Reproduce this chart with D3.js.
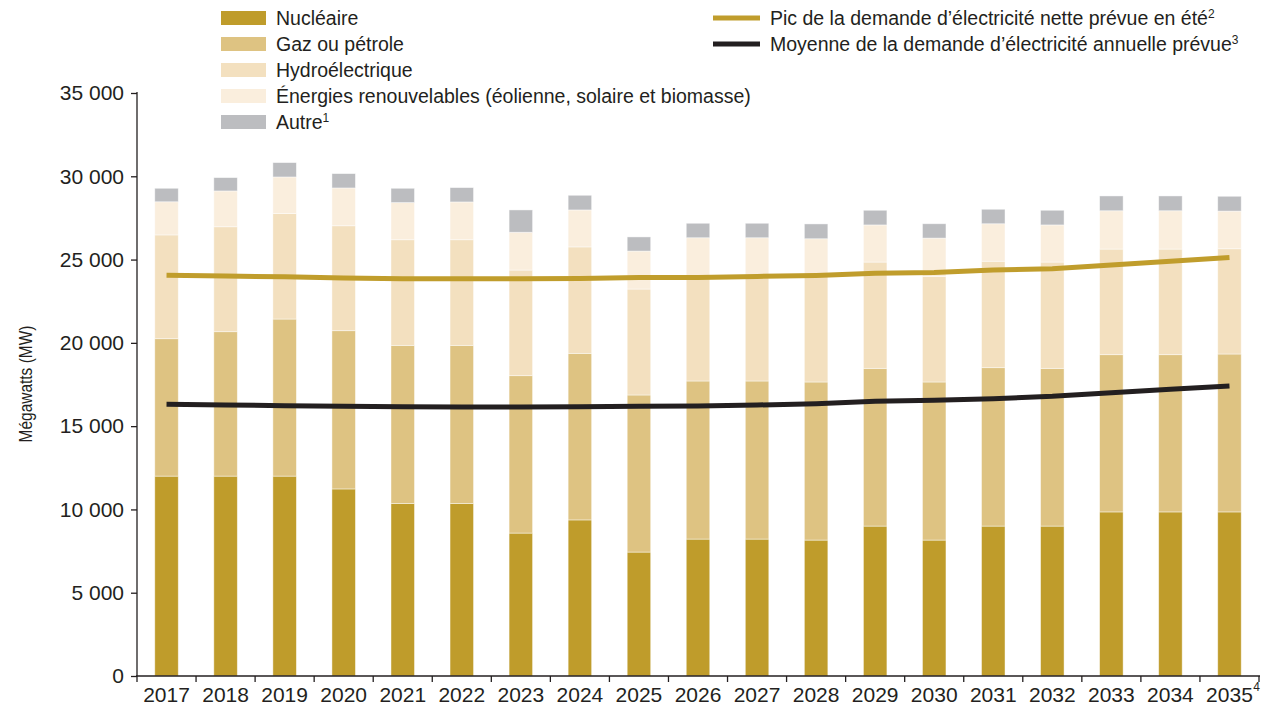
<!DOCTYPE html>
<html>
<head>
<meta charset="utf-8">
<script src="https://cdn.jsdelivr.net/npm/d3@7/dist/d3.min.js"></script>
<style>
  html, body { margin: 0; padding: 0; background: #fff; }
  svg text { font-family: "Liberation Sans", Arial, sans-serif; fill: #231f20; }
</style>
</head>
<body>
<svg id="chart" width="1274" height="706"></svg>
<script>
const years = ['2017','2018','2019','2020','2021','2022','2023','2024','2025','2026','2027','2028','2029','2030','2031','2032','2033','2034','2035'];
const nuclear    = [12000,12000,12000,11230,10350,10350,8580,9370,7440,8220,8220,8160,9000,8160,9000,9000,9850,9850,9850];
const gasOil     = [8250,8670,9430,9500,9500,9500,9450,10000,9430,9490,9490,9490,9470,9490,9510,9470,9440,9440,9480];
const hydro      = [6230,6300,6330,6300,6340,6340,6340,6390,6360,6340,6340,6340,6380,6340,6390,6380,6340,6340,6320];
const renewables = [1990,2150,2200,2270,2230,2270,2270,2220,2280,2260,2260,2260,2230,2300,2250,2230,2300,2300,2260];
const other      = [810,800,860,860,860,860,1340,880,850,870,870,890,880,860,870,880,890,890,890];
const peakDemand    = [24060,24010,23970,23890,23850,23850,23850,23870,23930,23930,23990,24050,24180,24220,24370,24450,24670,24900,25130];
const averageDemand = [16310,16270,16230,16190,16170,16150,16150,16170,16190,16210,16270,16350,16490,16550,16650,16790,17010,17210,17410];
const yTicks = [0,5000,10000,15000,20000,25000,30000,35000];
const seriesNames = ['Nucléaire','Gaz ou pétrole','Hydroélectrique','Énergies renouvelables (éolienne, solaire et biomasse)','Autre'];
const seriesSup = ['','','','','1'];
const seriesColors = ['#bf9c2b','#dec382','#f3e0bf','#faeedd','#bcbdc0'];
const lineNames = ['Pic de la demande d’électricité nette prévue en été','Moyenne de la demande d’électricité annuelle prévue'];
const lineSup = ['2','3'];
const lineColors = ['#c09d2c','#231f20'];

const svg = d3.select('#chart');
const x = d3.scaleBand().domain(years).range([137, 1259]).padding(0);
const y = d3.scaleLinear().domain([0, 35000]).range([676, 93]);
const barW = 23.5;

const table = years.map((yr, i) => ({year: yr, s0: nuclear[i], s1: gasOil[i], s2: hydro[i], s3: renewables[i], s4: other[i]}));
const stack = d3.stack().keys(['s0','s1','s2','s3','s4'])(table);

svg.append('g').selectAll('g').data(stack).join('g')
  .attr('fill', (d, i) => seriesColors[i])
  .selectAll('rect').data(d => d).join('rect')
  .attr('x', d => x(d.data.year) + x.bandwidth() / 2 - barW / 2)
  .attr('width', barW)
  .attr('y', d => y(d[1]))
  .attr('height', d => y(d[0]) - y(d[1]))
  .attr('stroke', '#ffffff').attr('stroke-opacity', 0.55).attr('stroke-width', 0.8);

// Lines
const lineGen = d3.line().x((d, i) => x(years[i]) + x.bandwidth() / 2).y(d => y(d));
[peakDemand, averageDemand].forEach((arr, k) => {
  svg.append('path').attr('d', lineGen(arr)).attr('fill', 'none')
    .attr('stroke', lineColors[k]).attr('stroke-width', 5);
});

// Y axis
const yAxis = svg.append('g').attr('transform', 'translate(137,0)')
  .call(d3.axisLeft(y).tickValues(yTicks).tickSize(6).tickPadding(7)
    .tickFormat(d => d3.format(',')(d).replace(/,/g, ' ')));
yAxis.select('.domain').attr('stroke', '#231f20').attr('stroke-width', 1.3).attr('d', 'M0,676V92');
yAxis.selectAll('.tick line').attr('stroke', '#231f20').attr('stroke-width', 1.3);
yAxis.selectAll('.tick text').attr('font-size', '21px').attr('fill', '#231f20');

// X axis
const xg = svg.append('g').attr('transform', 'translate(0,676)');
xg.append('line').attr('x1', 136).attr('x2', 1260).attr('y1', 0).attr('y2', 0)
  .attr('stroke', '#231f20').attr('stroke-width', 1.3);
const bounds = years.map(yr => x(yr)).concat([x(years[years.length - 1]) + x.bandwidth()]);
xg.selectAll('line.tk').data(bounds).join('line').attr('class', 'tk')
  .attr('x1', d => d).attr('x2', d => d).attr('y1', 0).attr('y2', 6)
  .attr('stroke', '#231f20').attr('stroke-width', 1.3);
xg.selectAll('text.yl').data(years).join('text').attr('class', 'yl')
  .attr('x', d => x(d) + x.bandwidth() / 2).attr('y', 26)
  .attr('text-anchor', 'middle').attr('font-size', '21px').text(d => d);
const lastX = x(years[years.length - 1]) + x.bandwidth() / 2;
const lastW = xg.selectAll('text.yl').nodes()[years.length - 1].getComputedTextLength();
xg.append('text').attr('x', lastX + lastW / 2 + 0.5).attr('y', 15).attr('font-size', '12px').text('4');

// Y title
svg.append('text').attr('transform', 'translate(32,384) rotate(-90) scale(0.86,1)')
  .attr('text-anchor', 'middle').attr('font-size', '18px').text('Mégawatts (MW)');

// Legend (bars)
const lg = svg.append('g');
seriesNames.forEach((name, i) => {
  const cy = 18 + i * 26;
  lg.append('rect').attr('x', 221).attr('y', cy - 7).attr('width', 45).attr('height', 14).attr('fill', seriesColors[i]);
  const t = lg.append('text').attr('x', 276).attr('y', cy + 7).attr('font-size', '19.5px').text(name);
  if (seriesSup[i]) {
    t.append('tspan').attr('font-size', '12px').attr('dy', -7).text(seriesSup[i]);
  }
});
// Legend (lines)
lineNames.forEach((name, i) => {
  const cy = 18 + i * 26;
  lg.append('line').attr('x1', 713).attr('x2', 760).attr('y1', cy).attr('y2', cy)
    .attr('stroke', lineColors[i]).attr('stroke-width', 5);
  const t = lg.append('text').attr('x', 770).attr('y', cy + 7).attr('font-size', '19.5px').text(name);
  t.append('tspan').attr('font-size', '12px').attr('dy', -7).text(lineSup[i]);
});
</script>
</body>
</html>
